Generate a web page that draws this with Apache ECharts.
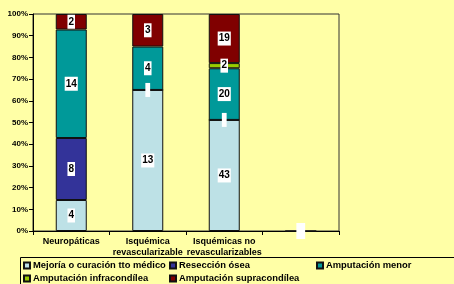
<!DOCTYPE html>
<html>
<head>
<meta charset="utf-8">
<script src="https://cdn.jsdelivr.net/npm/echarts@6/dist/echarts.min.js"></script>
<style>
  html, body { margin: 0; padding: 0; background: #FFFFA6; }
  #chart { width: 454px; height: 284px; }
</style>
</head>
<body>
<div id="chart"></div>
<script>
// categorias y recuentos de pacientes
var categories = ['Neuropáticas', 'Isquémica\nrevascularizable', 'Isquémicas no\nrevascularizables', ''];
var seriesNames = ['Mejoría o curación tto médico', 'Resección ósea', 'Amputación menor',
	'Amputación infracondílea', 'Amputación supracondílea'];
var mejoria = [4, 13, 43, null];
var reseccion = [8, 0, 0, 0];
var menor = [14, 4, 20, null];
var infracondilea = [null, null, 2, null];
var supracondilea = [2, 3, 19, null];
var yTicks = [0, 10, 20, 30, 40, 50, 60, 70, 80, 90, 100];

var colors = ['#BDE1E6', '#333399', '#009999', '#99CC00', '#800000'];
var counts = [mejoria, reseccion, menor, infracondilea, supracondilea];

var font = 'Liberation Sans, Arial, sans-serif';

// totales por categoria para pasar a porcentaje
var totals = categories.map(function(c, i) {
	var t = 0;
	counts.forEach(function(arr) { t += arr[i] || 0; });
	return t;
});

var series = counts.map(function(arr, s) {
	return {
		name: seriesNames[s],
		type: 'bar',
		stack: 'total',
		barWidth: 31,
		itemStyle: { color: colors[s], borderColor: '#111', borderWidth: 1 },
		label: {
			show: true,
			position: 'inside',
			backgroundColor: '#fff',
			color: '#000',
			fontFamily: font,
			fontWeight: 'bold',
			fontSize: 10,
			lineHeight: 10,
			padding: [2, 1],
			formatter: function(p) {
				return p.data.count === 0 ? ' ' : String(p.data.count);
			}
		},
		data: arr.map(function(v, i) {
			if (v === null) return null;
			var item = { value: totals[i] ? v / totals[i] * 100 : 0, count: v };
			if (totals[i] === 0) item.label = { padding: [3, 3] };
			return item;
		})
	};
});

var legendPos = [[23, 261], [169, 261], [316, 261], [23, 274], [169, 274]];
var legends = seriesNames.map(function(n, i) {
	return {
		data: [n],
		left: legendPos[i][0],
		top: legendPos[i][1],
		icon: 'rect',
		itemWidth: 6,
		itemHeight: 6,
		padding: 0,
		selectedMode: false,
		textStyle: { fontFamily: font, fontWeight: 'bold', fontSize: 9.4, color: '#000', padding: [0, 0, 0, -2] }
	};
});

var chart = echarts.init(document.getElementById('chart'));
chart.setOption({
	backgroundColor: '#FFFFA6',
	animation: false,
	grid: { left: 33, right: 115, top: 14, bottom: 53, show: true, borderColor: '#333', borderWidth: 1, backgroundColor: 'transparent' },
	legend: legends,
	graphic: [{
		type: 'rect',
		shape: { x: 20.5, y: 257.5, width: 440, height: 40 },
		style: { fill: 'none', stroke: '#000', lineWidth: 1 },
		silent: true
	}],
	xAxis: {
		type: 'category',
		data: categories,
		axisLine: { lineStyle: { color: '#000', width: 1 } },
		axisTick: { show: true, length: 4, lineStyle: { color: '#000' } },
		axisLabel: { fontFamily: font, fontWeight: 'bold', fontSize: 9, color: '#000', lineHeight: 11, margin: 5, interval: 0 }
	},
	yAxis: {
		type: 'value',
		min: yTicks[0],
		max: yTicks[yTicks.length - 1],
		interval: 10,
		axisLine: { show: true, lineStyle: { color: '#000', width: 1 } },
		axisTick: { show: true, length: 4, lineStyle: { color: '#000' } },
		splitLine: { show: false },
		axisLabel: { fontFamily: font, fontWeight: 'bold', fontSize: 8, color: '#000', margin: 5, formatter: '{value}%' }
	},
	series: series
});
</script>
</body>
</html>
